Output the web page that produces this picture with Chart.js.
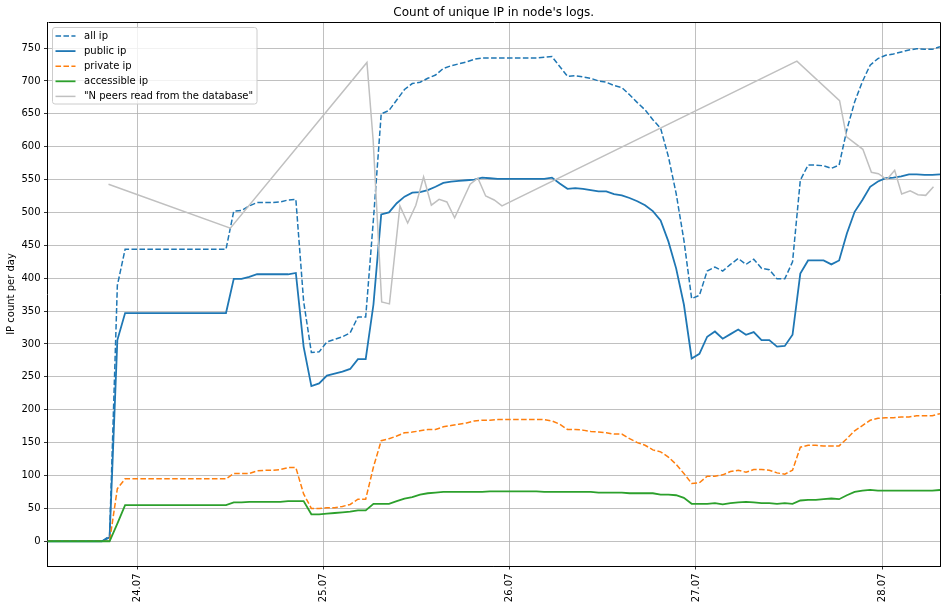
<!DOCTYPE html>
<html>
<head>
<meta charset="utf-8">
<script src="https://cdn.jsdelivr.net/npm/chart.js@4.4.1/dist/chart.umd.min.js"></script>
<style>
html,body{margin:0;padding:0;background:#fff;}
#wrap{width:947px;height:609px;position:relative;}
</style>
</head>
<body>
<div id="wrap"><canvas id="c" width="947" height="609"></canvas></div>
<script>
// ---- data (hours counted from 24.07 00:00) ----
const ipStartHour = -11.56;   // timestamp of first hourly sample
const ipStepHours = 1;        // hourly samples

const allIp = [
  0,0,0,0,0,0,0,0,8,389,
  444,444,444,444,444,444,444,444,444,444,
  444,444,444,444,502,503,510,515,515,515,
  516,519,520,365,287,288,303,307,311,317,
  341,341,490,650,655,671,687,696,698,704,
  709,719,723,726,729,733,735,735,735,735,
  735,735,735,735,736,737,722,707,708,706,
  704,700,698,693,690,679,667,656,641,628,
  585,529,458,369,374,411,417,411,421,430,
  421,429,415,413,399,399,425,549,572,572,
  571,567,572,626,668,699,724,734,739,741,
  744,747,749,748,748,752
];
const publicIp = [
  0,0,0,0,0,0,0,0,6,306,
  347,347,347,347,347,347,347,347,347,347,
  347,347,347,347,399,399,402,406,406,406,
  406,406,408,296,236,240,252,255,258,262,
  277,277,360,497,500,514,524,530,531,534,
  539,545,547,548,549,550,553,552,551,551,
  551,551,551,551,551,553,544,536,537,536,
  534,532,532,528,526,522,517,511,502,488,
  456,415,360,278,285,311,319,308,315,322,
  314,318,306,306,296,297,314,407,427,427,
  427,421,427,468,501,519,539,547,552,553,
  555,558,558,557,557,558
];
const privateIp = [
  0,0,0,0,0,0,0,0,0,80,
  95,95,95,95,95,95,95,95,95,95,
  95,95,95,95,103,103,103,107,108,108,
  109,112,112,72,50,50,51,51,53,56,
  64,64,113,153,156,160,165,166,168,170,
  170,174,176,178,180,183,184,184,185,185,
  185,185,185,185,185,183,178,170,170,169,
  167,166,165,163,163,156,150,146,139,136,
  128,117,103,88,89,99,99,101,106,108,
  105,109,109,108,104,102,108,143,146,146,
  145,145,145,156,168,176,184,187,188,188,
  189,189,191,191,191,194
];
const accessibleIp = [
  0,0,0,0,0,0,0,0,0,27,
  55,55,55,55,55,55,55,55,55,55,
  55,55,55,55,59,59,60,60,60,60,
  60,61,61,61,41,41,42,43,44,45,
  47,47,57,57,57,61,65,67,71,73,
  74,75,75,75,75,75,75,76,76,76,
  76,76,76,76,75,75,75,75,75,75,
  75,74,74,74,74,73,73,73,73,71,
  71,70,66,57,57,57,58,56,58,59,
  60,59,58,58,57,58,57,62,63,63,
  64,65,64,70,75,77,78,77,77,77,
  77,77,77,77,77,78
];
const dbHours = [
  -3.7, 12.0, 29.6, 30.4, 31.5, 32.5, 33.85, 34.85, 35.9, 36.9,
  37.9, 38.9, 39.9, 40.9, 42.9, 43.9, 44.9, 46.0, 47.0, 85.0,
  90.5, 91.4, 93.5, 94.6, 95.5, 96.6, 97.6, 98.5, 99.6, 100.6,
  101.6, 102.6
];
const dbPeers = [
  543, 476, 728, 610, 364, 361, 510, 484, 511, 554,
  511, 520, 516, 492, 543, 552, 525, 519, 510, 730,
  670, 615, 596, 561, 559, 550, 564, 528, 533, 527,
  526, 539
];
const dayTickHours = [0, 24, 48, 72, 96];
const dayTickLabels = ['24.07', '25.07', '26.07', '27.07', '28.07'];
const yTickValues = [0,50,100,150,200,250,300,350,400,450,500,550,600,650,700,750];

// ---- build ----
const FONT = "'DejaVu Sans', sans-serif";
Chart.defaults.font.family = FONT;
Chart.defaults.color = '#000';

const toPoints = (ys) => ys.map((y, i) => ({ x: ipStartHour + i * ipStepHours, y }));
const dbPoints = dbHours.map((h, i) => ({ x: h, y: dbPeers[i] }));

const datasets = [
  { label: 'all ip', data: toPoints(allIp), borderColor: '#1f77b4', borderDash: [5.55, 2.4], borderWidth: 1.5, order: 4 },
  { label: 'public ip', data: toPoints(publicIp), borderColor: '#1f77b4', borderWidth: 1.8, order: 3 },
  { label: 'private ip', data: toPoints(privateIp), borderColor: '#ff7f0e', borderDash: [5.55, 2.4], borderWidth: 1.5, order: 2 },
  { label: 'accessible ip', data: toPoints(accessibleIp), borderColor: '#2ca02c', borderWidth: 1.8, order: 1 },
  { label: '"N peers read from the database"', data: dbPoints, borderColor: '#c0c0c0', borderWidth: 1.5, order: 0 }
];
datasets.forEach(d => { d.pointRadius = 0; d.tension = 0; d.fill = false; d.backgroundColor = d.borderColor; });

const framePlugin = {
  id: 'frame',
  afterDatasetsDraw(chart) {
    const a = chart.chartArea, ctx = chart.ctx;
    ctx.save();
    ctx.strokeStyle = '#000';
    ctx.lineWidth = 1;
    ctx.beginPath();
    ctx.moveTo(Math.round(a.left) + 0.5, Math.round(a.top) + 0.5);
    ctx.lineTo(Math.round(a.right) + 0.5, Math.round(a.top) + 0.5);
    ctx.lineTo(Math.round(a.right) + 0.5, Math.round(a.bottom) + 0.5);
    ctx.stroke();
    ctx.restore();
  }
};

const legendPlugin = {
  id: 'inlegend',
  afterDraw(chart) {
    const ctx = chart.ctx, a = chart.chartArea;
    const x0 = a.left + 5, y0 = a.top + 5.5, w = 204.5, h = 76.5, r = 2.5;
    ctx.save();
    ctx.beginPath();
    ctx.moveTo(x0 + r, y0);
    ctx.lineTo(x0 + w - r, y0);
    ctx.quadraticCurveTo(x0 + w, y0, x0 + w, y0 + r);
    ctx.lineTo(x0 + w, y0 + h - r);
    ctx.quadraticCurveTo(x0 + w, y0 + h, x0 + w - r, y0 + h);
    ctx.lineTo(x0 + r, y0 + h);
    ctx.quadraticCurveTo(x0, y0 + h, x0, y0 + h - r);
    ctx.lineTo(x0, y0 + r);
    ctx.quadraticCurveTo(x0, y0, x0 + r, y0);
    ctx.closePath();
    ctx.fillStyle = 'rgba(255,255,255,0.8)';
    ctx.fill();
    ctx.strokeStyle = '#cccccc';
    ctx.lineWidth = 1;
    ctx.stroke();
    ctx.font = '10px ' + FONT;
    ctx.textBaseline = 'middle';
    ctx.textAlign = 'left';
    chart.data.datasets.forEach((d, i) => {
      const cy = y0 + 8.5 + i * 15.1;
      ctx.beginPath();
      ctx.setLineDash(d.borderDash || []);
      ctx.strokeStyle = d.borderColor;
      ctx.lineWidth = d.borderWidth;
      ctx.moveTo(x0 + 3, cy);
      ctx.lineTo(x0 + 23, cy);
      ctx.stroke();
      ctx.setLineDash([]);
      ctx.fillStyle = '#000';
      ctx.fillText(d.label, x0 + 31.5, cy);
    });
    ctx.restore();
  }
};

new Chart(document.getElementById('c'), {
  type: 'line',
  data: { datasets },
  plugins: [framePlugin, legendPlugin],
  options: {
    responsive: false,
    animation: false,
    devicePixelRatio: 1,
    parsing: true,
    layout: { padding: { left: 0, right: 7, top: 0, bottom: 0 } },
    plugins: {
      legend: { display: false },
      tooltip: { enabled: false },
      title: {
        display: true,
        fullSize: false,
        text: "Count of unique IP in node's logs.",
        color: '#000',
        font: { family: FONT, size: 12, weight: 'normal' },
        padding: { top: 5.5, bottom: 2.1 }
      }
    },
    scales: {
      x: {
        type: 'linear',
        min: ipStartHour,
        max: ipStartHour + (allIp.length - 1) * ipStepHours,
        afterBuildTicks: (s) => { s.ticks = dayTickHours.map(v => ({ value: v })); },
        afterFit: (s) => { s.height = 43; },
        ticks: {
          autoSkip: false,
          minRotation: 90,
          maxRotation: 90,
          padding: 4,
          color: '#000',
          font: { family: FONT, size: 10 },
          callback: (v, i) => dayTickLabels[i]
        },
        grid: { color: '#b0b0b0', lineWidth: 0.8, tickColor: '#000', tickLength: 3.5, tickWidth: 0.8 },
        border: { display: true, color: '#000', width: 1 }
      },
      y: {
        type: 'linear',
        min: -37.6,
        max: 789.6,
        afterBuildTicks: (s) => { s.ticks = yTickValues.map(v => ({ value: v })); },
        afterFit: (s) => { s.width = 47.5; },
        ticks: {
          padding: 3.5,
          color: '#000',
          font: { family: FONT, size: 10 }
        },
        title: {
          display: true,
          text: 'IP count per day',
          color: '#000',
          font: { family: FONT, size: 10 },
          padding: { top: 5, bottom: 0 }
        },
        grid: { color: '#b0b0b0', lineWidth: 0.8, tickColor: '#000', tickLength: 3.5, tickWidth: 0.8 },
        border: { display: true, color: '#000', width: 1 }
      }
    }
  }
});
</script>
</body>
</html>
